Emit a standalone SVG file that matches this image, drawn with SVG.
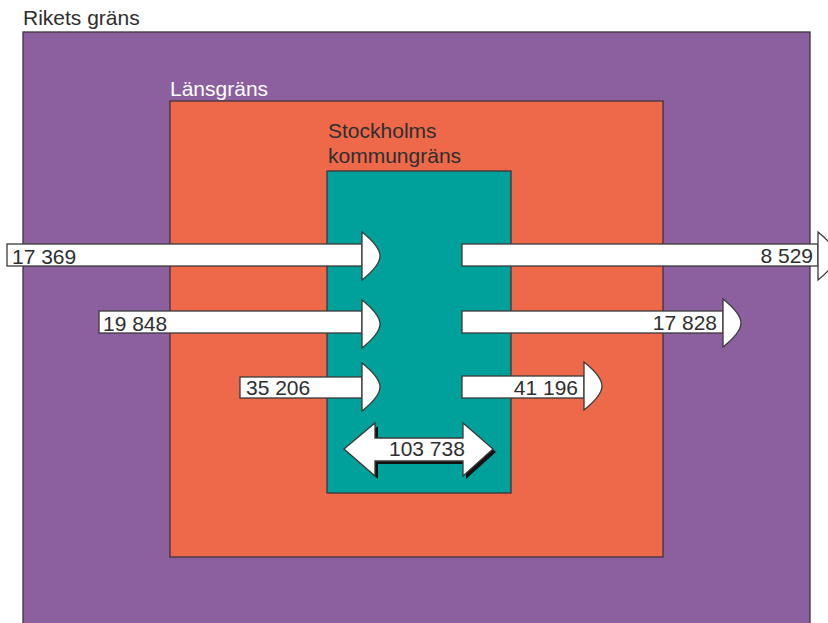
<svg xmlns="http://www.w3.org/2000/svg" width="828" height="623" viewBox="0 0 828 623">
<style>
.t{font-family:"Liberation Sans",Arial,sans-serif;font-size:21px;fill:#2e2e2e}
.w{fill:#ffffff}
.box{fill:#ffffff;stroke:#3a3a3a;stroke-width:1.3}
.zone{stroke:#3d3340;stroke-width:1.3}
</style>
<defs>
<path id="head" d="M0,-24 C10,-16 18,-8 18,0 C18,8 10,16 0,24 Z"/>
</defs>
<rect width="828" height="623" fill="#ffffff"/>
<g id="riket">
<rect class="zone" x="23" y="32" width="787" height="600" fill="#8C609E"/>
<text class="t" x="23" y="25">Rikets gräns</text>
</g>
<g id="lan">
<rect class="zone" x="170" y="101" width="493" height="456" fill="#EE684A"/>
<text class="t w" x="170" y="96">Länsgräns</text>
</g>
<g id="kommun">
<rect class="zone" x="327" y="171" width="184" height="322" fill="#00A19A"/>
<text class="t" x="328" y="138">Stockholms</text>
<text class="t" x="328" y="163">kommungräns</text>
</g>
<g id="connectors">
<g id="in1">
<rect class="box" x="7" y="244" width="355" height="22"/>
<use href="#head" class="box" transform="translate(362,256)"/>
<text class="t" x="12" y="264">17 369</text>
</g>
<g id="out1">
<rect class="box" x="462" y="244" width="356" height="22"/>
<use href="#head" class="box" transform="translate(818,256)"/>
<text class="t" x="813" y="263" text-anchor="end">8 529</text>
</g>
<g id="in2">
<rect class="box" x="99" y="311" width="263" height="22"/>
<use href="#head" class="box" transform="translate(362,324)"/>
<text class="t" x="103" y="331">19 848</text>
</g>
<g id="out2">
<rect class="box" x="462" y="311" width="261" height="22"/>
<use href="#head" class="box" transform="translate(723,323)"/>
<text class="t" x="717" y="330" text-anchor="end">17 828</text>
</g>
<g id="in3">
<rect class="box" x="240" y="377" width="122" height="21"/>
<use href="#head" class="box" transform="translate(362,387)"/>
<text class="t" x="246" y="395">35 206</text>
</g>
<g id="out3">
<rect class="box" x="462" y="376" width="122" height="22"/>
<use href="#head" class="box" transform="translate(584,386)"/>
<text class="t" x="578" y="395" text-anchor="end">41 196</text>
</g>
<g id="internal">
<path d="M344,449 L375,423 L375,438 L463,438 L463,423 L493,449 L463,476 L463,461 L375,461 L375,476 Z" fill="#111111" transform="translate(3,3)"/>
<path class="box" d="M344,449 L375,423 L375,438 L463,438 L463,423 L493,449 L463,476 L463,461 L375,461 L375,476 Z" stroke="#111111"/>
<text class="t" x="389" y="456">103 738</text>
</g>
</g>
</svg>
